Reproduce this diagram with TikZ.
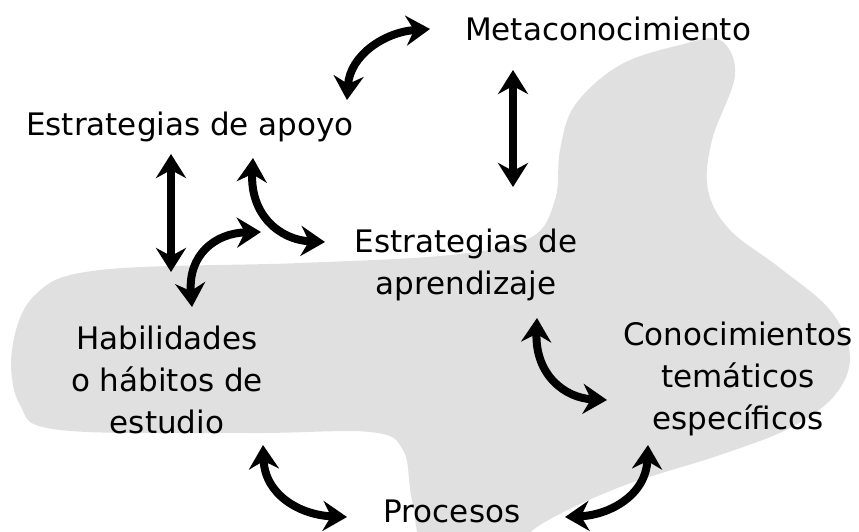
\documentclass[tikz,border=0pt]{standalone}
\usepackage{fontspec}
\setmainfont{DejaVu Sans}
\usetikzlibrary{arrows.meta}
\definecolor{blobgray}{RGB}{224,224,224}
\begin{document}
\begin{tikzpicture}[x=1pt,y=-1pt,
  lbl/.style={font=\fontsize{31}{42}\selectfont, align=center, inner sep=0pt, anchor=base},
  dbl/.style={line width=8pt, {Stealth[length=24pt,width=30pt,inset=8pt]}-{Stealth[length=24pt,width=30pt,inset=8pt]}}]
\useasboundingbox (0,0) rectangle (859,531);
\begin{scope}
\clip (0,0) rectangle (859,531);
\fill[blobgray] plot[smooth cycle, tension=0.6] coordinates {
 (720,40) (735,75) (712,140) (708,190) (730,230) (780,268) (830,310) (850,355)
 (835,395) (790,428) (720,455) (620,487) (540,525) (500,560) (430,560) (412,500)
 (403,450) (370,432) (250,433) (60,430) (20,405) (12,350) (35,295) (100,270)
 (300,263) (450,255) (530,238) (555,200) (560,150) (575,105) (620,65) (680,45)};
\end{scope}
\node[lbl] (meta) at (608,40) {Metaconocimiento};
\node[lbl] (apoyo) at (190,135) {Estrategias de apoyo};
\node[lbl] (aprend) at (466,294) {Estrategias de\\aprendizaje};
\node[lbl] (habil) at (167,433) {Habilidades\\o hábitos de\\estudio};
\node[lbl] (conoc) at (738,429) {Conocimientos\\temáticos\\específicos};
\node[lbl] (proc) at (452,522) {Procesos};
\coordinate (a1s) at (347,100); \coordinate (a1e) at (430,29);
\coordinate (a2s) at (513,70);  \coordinate (a2e) at (513,187);
\coordinate (a3s) at (171,154); \coordinate (a3e) at (171,272);
\coordinate (a4s) at (253,158); \coordinate (a4e) at (325,242);
\coordinate (a5s) at (192,307); \coordinate (a5e) at (261,232);
\coordinate (a6s) at (537,318); \coordinate (a6e) at (607,400);
\coordinate (a7s) at (263,445); \coordinate (a7e) at (347,517);
\coordinate (a8s) at (648,445); \coordinate (a8e) at (565,517);
\draw[dbl] (a1s) .. controls (350,55) and (385,32) .. (a1e);
\draw[dbl] (a2s) -- (a2e);
\draw[dbl] (a3s) -- (a3e);
\draw[dbl] (a4s) .. controls (250,215) and (280,240) .. (a4e);
\draw[dbl] (a5s) .. controls (188,255) and (215,233) .. (a5e);
\draw[dbl] (a6s) .. controls (535,375) and (565,398) .. (a6e);
\draw[dbl] (a7s) .. controls (265,495) and (300,515) .. (a7e);
\draw[dbl] (a8s) .. controls (646,495) and (610,515) .. (a8e);
\end{tikzpicture}
\end{document}
